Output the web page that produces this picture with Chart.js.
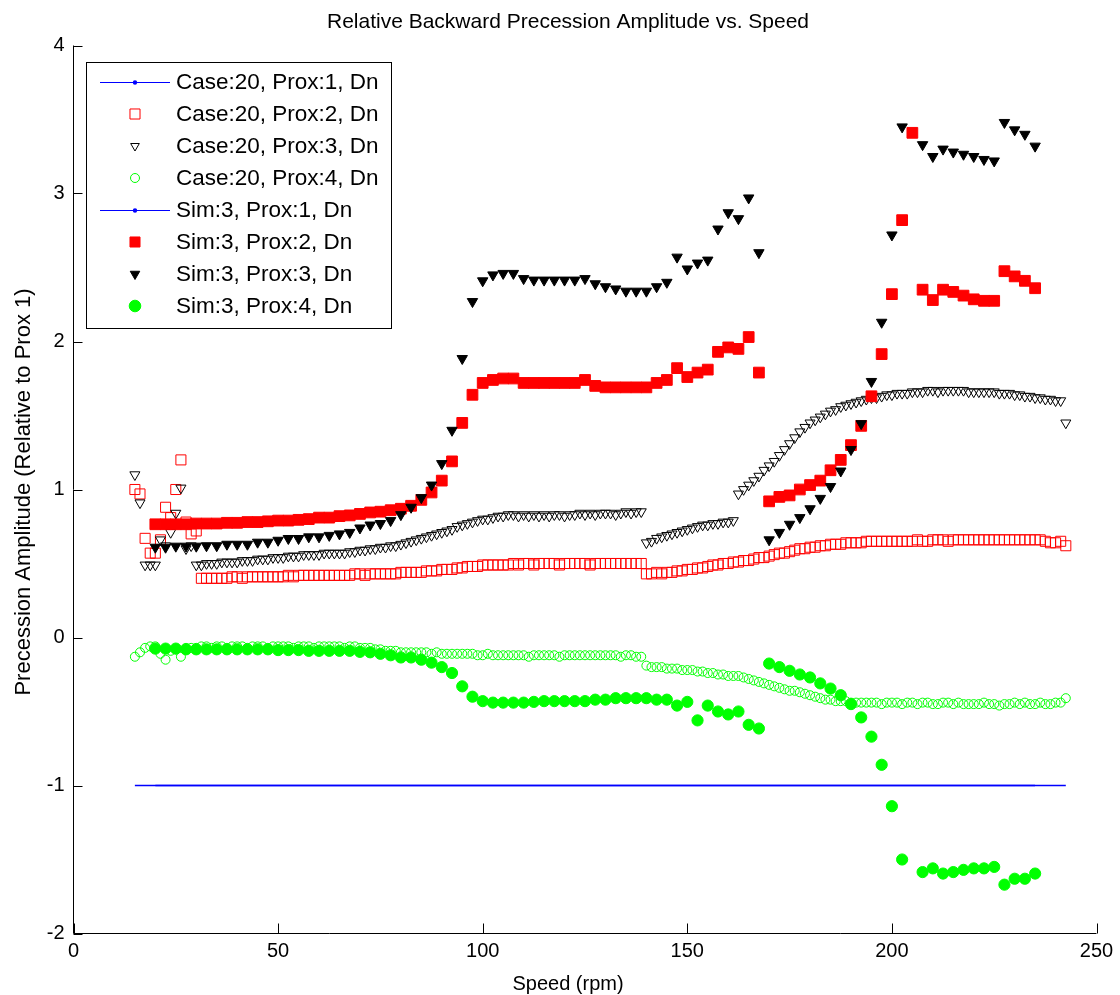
<!DOCTYPE html>
<html>
<head>
<meta charset="utf-8">
<title>Relative Backward Precession Amplitude vs. Speed</title>
<script src="https://cdn.jsdelivr.net/npm/chart.js@4/dist/chart.umd.min.js"></script>
<style>
  html, body { margin: 0; padding: 0; background: #ffffff; }
  #wrap { width: 1120px; height: 995px; }
</style>
</head>
<body>
<div id="wrap"><canvas id="chart-precession" width="1120" height="995"></canvas></div>
<script>
// ---- data ----
var chartTitle = 'Relative Backward Precession Amplitude vs. Speed';
var xTitle = 'Speed (rpm)';
var yTitle = 'Precession Amplitude (Relative to Prox 1)';
var xTicks = [0, 50, 100, 150, 200, 250];
var yTicks = [-2, -1, 0, 1, 2, 3, 4];

// measured (Case:20) speeds, rpm
var caseSpeed = [
  15, 16.25, 17.5, 18.75, 20, 21.25, 22.5, 23.75,
  25, 26.25, 27.5, 28.75, 30, 31.25, 32.5, 33.75,
  35, 36.25, 37.5, 38.75, 40, 41.25, 42.5, 43.75,
  45, 46.25, 47.5, 48.75, 50, 51.25, 52.5, 53.75,
  55, 56.25, 57.5, 58.75, 60, 61.25, 62.5, 63.75,
  65, 66.25, 67.5, 68.75, 70, 71.25, 72.5, 73.75,
  75, 76.25, 77.5, 78.75, 80, 81.25, 82.5, 83.75,
  85, 86.25, 87.5, 88.75, 90, 91.25, 92.5, 93.75,
  95, 96.25, 97.5, 98.75, 100, 101.25, 102.5, 103.75,
  105, 106.25, 107.5, 108.75, 110, 111.25, 112.5, 113.75,
  115, 116.25, 117.5, 118.75, 120, 121.25, 122.5, 123.75,
  125, 126.25, 127.5, 128.75, 130, 131.25, 132.5, 133.75,
  135, 136.25, 137.5, 138.75, 140, 141.25, 142.5, 143.75,
  145, 146.25, 147.5, 148.75, 150, 151.25, 152.5, 153.75,
  155, 156.25, 157.5, 158.75, 160, 161.25, 162.5, 163.75,
  165, 166.25, 167.5, 168.75, 170, 171.25, 172.5, 173.75,
  175, 176.25, 177.5, 178.75, 180, 181.25, 182.5, 183.75,
  185, 186.25, 187.5, 188.75, 190, 191.25, 192.5, 193.75,
  195, 196.25, 197.5, 198.75, 200, 201.25, 202.5, 203.75,
  205, 206.25, 207.5, 208.75, 210, 211.25, 212.5, 213.75,
  215, 216.25, 217.5, 218.75, 220, 221.25, 222.5, 223.75,
  225, 226.25, 227.5, 228.75, 230, 231.25, 232.5, 233.75,
  235, 236.25, 237.5, 238.75, 240, 241.25, 242.5
];
var caseLineSpeed = [15, 242.5];
var caseP1 = [-1, -1];
var caseP2 = [
  1.00, 0.97, 0.67, 0.57, 0.57, 0.66, 0.88, 0.81,
  1.00, 1.20, 0.78, 0.70, 0.72, 0.40, 0.40, 0.40,
  0.40, 0.40, 0.40, 0.41, 0.41, 0.40, 0.41, 0.41,
  0.41, 0.41, 0.41, 0.41, 0.41, 0.41, 0.42, 0.41,
  0.42, 0.42, 0.42, 0.42, 0.42, 0.42, 0.42, 0.42,
  0.42, 0.42, 0.42, 0.43, 0.43, 0.42, 0.43, 0.43,
  0.43, 0.43, 0.43, 0.43, 0.44, 0.44, 0.44, 0.44,
  0.44, 0.45, 0.45, 0.45, 0.46, 0.46, 0.46, 0.47,
  0.47, 0.48, 0.48, 0.48, 0.49, 0.49, 0.49, 0.49,
  0.49, 0.49, 0.50, 0.49, 0.50, 0.50, 0.49, 0.50,
  0.50, 0.50, 0.50, 0.49, 0.50, 0.50, 0.50, 0.50,
  0.50, 0.49, 0.50, 0.50, 0.50, 0.50, 0.50, 0.50,
  0.50, 0.50, 0.50, 0.50, 0.43, 0.43, 0.44, 0.43,
  0.44, 0.44, 0.45, 0.45, 0.46, 0.46, 0.47, 0.47,
  0.48, 0.49, 0.49, 0.50, 0.50, 0.51, 0.51, 0.52,
  0.52, 0.53, 0.54, 0.54, 0.55, 0.56, 0.57, 0.57,
  0.58, 0.59, 0.60, 0.60, 0.61, 0.61, 0.62, 0.62,
  0.63, 0.63, 0.63, 0.64, 0.64, 0.64, 0.64, 0.65,
  0.65, 0.65, 0.65, 0.65, 0.65, 0.65, 0.65, 0.65,
  0.65, 0.66, 0.65, 0.65, 0.66, 0.66, 0.66, 0.65,
  0.66, 0.66, 0.66, 0.66, 0.66, 0.66, 0.66, 0.66,
  0.66, 0.66, 0.66, 0.66, 0.66, 0.66, 0.66, 0.66,
  0.66, 0.66, 0.65, 0.64, 0.64, 0.65, 0.62
];
var caseP3 = [
  1.10, 0.91, 0.49, 0.49, 0.49, 0.66, 0.62, 0.71,
  0.84, 1.01, 0.60, 0.62, 0.49, 0.49, 0.50, 0.50,
  0.50, 0.51, 0.51, 0.51, 0.51, 0.52, 0.52, 0.52,
  0.53, 0.53, 0.53, 0.54, 0.54, 0.54, 0.55, 0.55,
  0.55, 0.56, 0.56, 0.56, 0.56, 0.57, 0.57, 0.57,
  0.57, 0.57, 0.58, 0.58, 0.59, 0.59, 0.60, 0.60,
  0.61, 0.61, 0.62, 0.62, 0.63, 0.64, 0.65, 0.66,
  0.67, 0.68, 0.69, 0.70, 0.71, 0.72, 0.73, 0.75,
  0.76, 0.77, 0.78, 0.79, 0.80, 0.80, 0.81, 0.82,
  0.82, 0.83, 0.83, 0.82, 0.83, 0.82, 0.83, 0.82,
  0.83, 0.82, 0.83, 0.83, 0.82, 0.83, 0.83, 0.84,
  0.83, 0.84, 0.83, 0.84, 0.84, 0.84, 0.83, 0.84,
  0.85, 0.84, 0.85, 0.85, 0.64, 0.65, 0.67, 0.68,
  0.69, 0.70, 0.71, 0.72, 0.73, 0.74, 0.75, 0.76,
  0.76, 0.77, 0.77, 0.78, 0.78, 0.79, 0.97, 1.00,
  1.03, 1.06, 1.09, 1.13, 1.16, 1.19, 1.23, 1.27,
  1.31, 1.35, 1.39, 1.42, 1.45, 1.47, 1.49, 1.51,
  1.53, 1.54, 1.56, 1.57, 1.58, 1.59, 1.60, 1.61,
  1.62, 1.62, 1.63, 1.64, 1.64, 1.65, 1.65, 1.65,
  1.66, 1.66, 1.66, 1.67, 1.67, 1.66, 1.67, 1.67,
  1.67, 1.67, 1.67, 1.66, 1.66, 1.66, 1.66, 1.66,
  1.66, 1.65, 1.65, 1.65, 1.64, 1.64, 1.63, 1.63,
  1.62, 1.62, 1.61, 1.61, 1.60, 1.60, 1.45
];
var caseP4 = [
  -0.13, -0.10, -0.07, -0.06, -0.06, -0.11, -0.15, -0.09,
  -0.08, -0.13, -0.07, -0.07, -0.07, -0.06, -0.06, -0.07,
  -0.06, -0.06, -0.07, -0.06, -0.06, -0.06, -0.07, -0.06,
  -0.06, -0.06, -0.07, -0.06, -0.06, -0.06, -0.06, -0.07,
  -0.06, -0.06, -0.06, -0.07, -0.06, -0.06, -0.06, -0.06,
  -0.06, -0.07, -0.06, -0.06, -0.07, -0.07, -0.07, -0.08,
  -0.08, -0.09, -0.09, -0.09, -0.10, -0.10, -0.10, -0.10,
  -0.10, -0.10, -0.11, -0.10, -0.11, -0.11, -0.11, -0.11,
  -0.11, -0.11, -0.11, -0.12, -0.12, -0.11, -0.12, -0.12,
  -0.12, -0.12, -0.12, -0.12, -0.12, -0.13, -0.12, -0.12,
  -0.12, -0.12, -0.12, -0.13, -0.12, -0.12, -0.12, -0.12,
  -0.12, -0.12, -0.12, -0.12, -0.12, -0.12, -0.12, -0.13,
  -0.12, -0.12, -0.13, -0.13, -0.19, -0.20, -0.20, -0.20,
  -0.21, -0.21, -0.21, -0.22, -0.22, -0.22, -0.23, -0.23,
  -0.24, -0.24, -0.25, -0.25, -0.26, -0.26, -0.26, -0.27,
  -0.28, -0.29, -0.30, -0.31, -0.32, -0.33, -0.34, -0.35,
  -0.36, -0.36, -0.37, -0.38, -0.39, -0.40, -0.41, -0.42,
  -0.42, -0.43, -0.43, -0.43, -0.44, -0.44, -0.44, -0.44,
  -0.44, -0.44, -0.45, -0.44, -0.44, -0.44, -0.45, -0.44,
  -0.44, -0.45, -0.44, -0.44, -0.45, -0.45, -0.44, -0.44,
  -0.45, -0.44, -0.45, -0.45, -0.45, -0.45, -0.44, -0.45,
  -0.45, -0.46, -0.45, -0.45, -0.44, -0.45, -0.44, -0.45,
  -0.45, -0.44, -0.45, -0.45, -0.44, -0.44, -0.41
];

// simulation (Sim:3) speeds, rpm
var simSpeed = [
  20, 22.5, 25, 27.5, 30, 32.5, 35, 37.5,
  40, 42.5, 45, 47.5, 50, 52.5, 55, 57.5,
  60, 62.5, 65, 67.5, 70, 72.5, 75, 77.5,
  80, 82.5, 85, 87.5, 90, 92.5, 95, 97.5,
  100, 102.5, 105, 107.5, 110, 112.5, 115, 117.5,
  120, 122.5, 125, 127.5, 130, 132.5, 135, 137.5,
  140, 142.5, 145, 147.5, 150, 152.5, 155, 157.5,
  160, 162.5, 165, 167.5, 170, 172.5, 175, 177.5,
  180, 182.5, 185, 187.5, 190, 192.5, 195, 197.5,
  200, 202.5, 205, 207.5, 210, 212.5, 215, 217.5,
  220, 222.5, 225, 227.5, 230, 232.5, 235
];
var simLineSpeed = [20, 235];
var simP1 = [-1, -1];
var simP2 = [
  0.765, 0.765, 0.765, 0.765, 0.77, 0.77, 0.77, 0.775,
  0.775, 0.78, 0.78, 0.785, 0.79, 0.79, 0.795, 0.80,
  0.81, 0.81, 0.82, 0.825, 0.835, 0.845, 0.85, 0.86,
  0.87, 0.89, 0.93, 0.98, 1.06, 1.19, 1.45, 1.64,
  1.72, 1.74, 1.75, 1.75, 1.72, 1.72, 1.72, 1.72,
  1.72, 1.72, 1.74, 1.70, 1.69, 1.69, 1.69, 1.69,
  1.69, 1.72, 1.74, 1.82, 1.76, 1.79, 1.81, 1.93,
  1.96, 1.95, 2.03, 1.79, 0.92, 0.95, 0.96, 1.00,
  1.03, 1.06, 1.13, 1.20, 1.30, 1.43, 1.63, 1.915,
  2.32, 2.82, 3.41, 2.35, 2.28, 2.35, 2.335, 2.31,
  2.285, 2.275, 2.275, 2.475, 2.44, 2.41, 2.36
];
var simP3 = [
  0.61, 0.61, 0.617, 0.617, 0.617, 0.62, 0.62, 0.63,
  0.63, 0.63, 0.644, 0.644, 0.657, 0.669, 0.669, 0.68,
  0.68, 0.69, 0.70, 0.71, 0.74, 0.76, 0.77, 0.79,
  0.83, 0.88, 0.945, 1.03, 1.175, 1.40, 1.885, 2.27,
  2.41, 2.45, 2.46, 2.46, 2.425, 2.415, 2.415, 2.415,
  2.415, 2.415, 2.425, 2.39, 2.37, 2.355, 2.34, 2.34,
  2.34, 2.37, 2.40, 2.57, 2.49, 2.53, 2.55, 2.76,
  2.87, 2.83, 2.97, 2.60, 0.66, 0.71, 0.765, 0.81,
  0.87, 0.94, 1.02, 1.125, 1.27, 1.445, 1.73, 2.13,
  2.72, 3.45, null, 3.33, 3.25, 3.30, 3.28, 3.265,
  3.25, 3.23, 3.22, 3.48, 3.43, 3.40, 3.32
];
var simP4 = [
  -0.075, -0.075, -0.075, -0.08, -0.08, -0.08, -0.08, -0.08,
  -0.08, -0.08, -0.08, -0.08, -0.085, -0.085, -0.085, -0.09,
  -0.09, -0.09, -0.09, -0.09, -0.097, -0.10, -0.11, -0.12,
  -0.135, -0.135, -0.15, -0.17, -0.20, -0.24, -0.33, -0.40,
  -0.43, -0.44, -0.44, -0.44, -0.44, -0.435, -0.43, -0.43,
  -0.43, -0.43, -0.43, -0.42, -0.42, -0.41, -0.41, -0.41,
  -0.41, -0.42, -0.42, -0.46, -0.435, -0.56, -0.46, -0.50,
  -0.52, -0.50, -0.59, -0.615, -0.176, -0.20, -0.225, -0.25,
  -0.27, -0.31, -0.345, -0.39, -0.45, -0.54, -0.67, -0.86,
  -1.14, -1.50, null, -1.585, -1.56, -1.595, -1.585, -1.57,
  -1.56, -1.56, -1.55, -1.67, -1.63, -1.63, -1.595
];

// ---- chart ----
var FONT = '"Liberation Sans", Arial, Helvetica, sans-serif';
var chart;

function toPoints(xs, ys)
{
  return xs.map(function (x, i) { return { x: x, y: ys[i] }; });
}

// legend drawn inside the axes, like the matlab one
var boxLegend = {
  id: 'boxLegend',
  afterDraw: function (c) {
    var ctx = c.ctx;
    var left = 86.5, top = 62.5, w = 305, h = 266;
    ctx.save();
    ctx.fillStyle = '#ffffff';
    ctx.fillRect(left, top, w, h);
    ctx.strokeStyle = '#000000';
    ctx.lineWidth = 1;
    ctx.strokeRect(left, top, w, h);

    ctx.font = '22.5px ' + FONT;
    ctx.textBaseline = 'middle';
    ctx.textAlign = 'left';
    c.data.datasets.forEach(function (ds, i) {
      var yRow = 82 + i * 32;
      var mx = 135;
      if (ds.showLine) {
        ctx.strokeStyle = ds.borderColor;
        ctx.lineWidth = 1;
        ctx.beginPath();
        ctx.moveTo(100, yRow + 0.5);
        ctx.lineTo(170, yRow + 0.5);
        ctx.stroke();
        ctx.fillStyle = ds.borderColor;
        ctx.beginPath();
        ctx.arc(mx, yRow + 0.5, 2.2, 0, Math.PI * 2);
        ctx.fill();
      } else {
        ctx.fillStyle = ds.backgroundColor;
        ctx.strokeStyle = ds.borderColor;
        ctx.lineWidth = ds.borderWidth;
        Chart.helpers.drawPoint(ctx, {
          pointStyle: ds.pointStyle,
          rotation: ds.rotation || 0,
          radius: ds.legendRadius,
          borderWidth: ds.borderWidth
        }, mx, yRow);
      }
      ctx.fillStyle = '#000000';
      ctx.fillText(ds.label, 176, yRow + 1);
    });
    ctx.restore();
  }
};

// axis lines, inward ticks and titles
var axesFrame = {
  id: 'axesFrame',
  afterDraw: function (c) {
    var ctx = c.ctx;
    var a = c.chartArea;
    var sx = c.scales.x, sy = c.scales.y;
    ctx.save();
    ctx.strokeStyle = '#000000';
    ctx.lineWidth = 1;
    ctx.beginPath();
    ctx.moveTo(a.left, a.top);
    ctx.lineTo(a.left, a.bottom);
    ctx.lineTo(a.right, a.bottom);
    xTicks.forEach(function (v) {
      var px = Math.round(sx.getPixelForValue(v)) + 0.5;
      ctx.moveTo(px, a.bottom);
      ctx.lineTo(px, a.bottom - 10);
    });
    yTicks.forEach(function (v) {
      var py = Math.round(sy.getPixelForValue(v)) + 0.5;
      ctx.moveTo(a.left, py);
      ctx.lineTo(a.left + 9, py);
    });
    ctx.stroke();

    ctx.fillStyle = '#000000';
    ctx.textAlign = 'center';
    ctx.textBaseline = 'alphabetic';
    ctx.font = '21px ' + FONT;
    ctx.fillText(chartTitle, 568, 28);
    ctx.font = '20px ' + FONT;
    ctx.fillText(xTitle, 568, 990);
    ctx.font = '22px ' + FONT;
    ctx.translate(30, 492);
    ctx.rotate(-Math.PI / 2);
    ctx.fillText(yTitle, 0, 0);
    ctx.restore();
  }
};

function buildDatasets()
{
  return [
    { label: 'Case:20, Prox:1, Dn', data: toPoints(caseLineSpeed, caseP1), showLine: true,
      borderColor: '#0000ff', backgroundColor: '#0000ff', borderWidth: 1.5, pointRadius: 0, order: 8 },
    { label: 'Case:20, Prox:2, Dn', data: toPoints(caseSpeed, caseP2), pointStyle: 'rect',
      borderColor: '#ff0000', backgroundColor: 'rgba(0,0,0,0)', borderWidth: 1, pointRadius: 7.1, legendRadius: 7.1, order: 7 },
    { label: 'Case:20, Prox:3, Dn', data: toPoints(caseSpeed, caseP3), pointStyle: 'triangle', rotation: 180, pointRotation: 180,
      borderColor: '#000000', backgroundColor: 'rgba(0,0,0,0)', borderWidth: 1, pointRadius: 5.8, legendRadius: 5, order: 6 },
    { label: 'Case:20, Prox:4, Dn', data: toPoints(caseSpeed, caseP4), pointStyle: 'circle',
      borderColor: '#00ff00', backgroundColor: 'rgba(0,0,0,0)', borderWidth: 1, pointRadius: 4.5, legendRadius: 4.5, order: 5 },
    { label: 'Sim:3, Prox:1, Dn', data: toPoints(simLineSpeed, simP1), showLine: true,
      borderColor: '#0000ff', backgroundColor: '#0000ff', borderWidth: 1.5, pointRadius: 0, order: 4 },
    { label: 'Sim:3, Prox:2, Dn', data: toPoints(simSpeed, simP2), pointStyle: 'rect',
      borderColor: '#ff0000', backgroundColor: '#ff0000', borderWidth: 1, pointRadius: 7.6, legendRadius: 7.1, order: 3 },
    { label: 'Sim:3, Prox:3, Dn', data: toPoints(simSpeed, simP3), pointStyle: 'triangle', rotation: 180, pointRotation: 180,
      borderColor: '#000000', backgroundColor: '#000000', borderWidth: 1, pointRadius: 6.0, legendRadius: 5.5, order: 2 },
    { label: 'Sim:3, Prox:4, Dn', data: toPoints(simSpeed, simP4), pointStyle: 'circle',
      borderColor: '#00ff00', backgroundColor: '#00ff00', borderWidth: 1, pointRadius: 5.6, legendRadius: 5.8, order: 1 }
  ];
}

function initChart()
{
  Chart.defaults.font.family = FONT;
  Chart.defaults.color = '#000000';
  var ctx = document.getElementById('chart-precession').getContext('2d');
  chart = new Chart(ctx, {
    type: 'scatter',
    data: { datasets: buildDatasets() },
    plugins: [axesFrame, boxLegend],
    options: {
      responsive: false,
      animation: false,
      devicePixelRatio: 1,
      layout: { padding: { left: 0, top: 45.5, right: 23.5, bottom: 0 } },
      elements: { line: { tension: 0 } },
      plugins: {
        legend: { display: false },
        title: { display: false },
        tooltip: { enabled: false }
      },
      scales: {
        x: {
          type: 'linear',
          min: 0,
          max: 250,
          grid: { display: false, drawTicks: false },
          border: { display: false },
          ticks: { stepSize: 50, padding: 6, font: { size: 20 }, color: '#000000', maxRotation: 0 },
          afterFit: function (scale) { scale.height = 61.5; }
        },
        y: {
          type: 'linear',
          min: -2,
          max: 4,
          grid: { display: false, drawTicks: false },
          border: { display: false },
          ticks: { stepSize: 1, padding: 9, font: { size: 20 }, color: '#000000' },
          afterFit: function (scale) { scale.width = 73.5; }
        }
      }
    }
  });
}

window.addEventListener('load', initChart);
</script>
</body>
</html>
